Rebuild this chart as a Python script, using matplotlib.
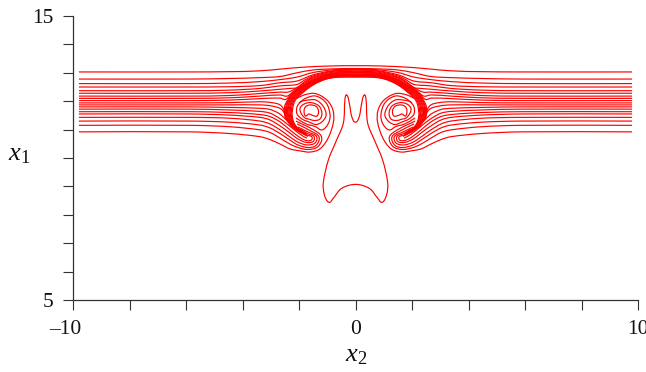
import matplotlib
matplotlib.use("Agg")
import matplotlib.pyplot as plt
import numpy as np
from matplotlib.patches import PathPatch
from matplotlib.path import Path
from matplotlib.transforms import ScaledTranslation

plt.rcParams["font.family"] = ["Liberation Serif", "DejaVu Serif"]
plt.rcParams["mathtext.fontset"] = "custom"
plt.rcParams["mathtext.rm"] = "Liberation Serif"
plt.rcParams["mathtext.it"] = "Liberation Serif:italic"

x_ticks = [-10, -8, -6, -4, -2, 0, 2, 4, 6, 8, 10]
x_tick_labels = ["\u201310", "", "", "", "", "0", "", "", "", "", "10"]
y_ticks = [5, 6, 7, 8, 9, 10, 11, 12, 13, 14, 15]
y_tick_labels = ["5", "", "", "", "", "", "", "", "", "", "15"]

# Left half of every streamline (x2, x1); the right half is its mirror image.
over_01 = [(-9.79, 13.03), (-5.86, 13.03), (-4.44, 13.04), (-3.38, 13.07), (-1.96, 13.19), (-0.90, 13.24), (0, 13.25)]
over_02 = [(-9.79, 12.78), (-5.86, 12.78), (-4.44, 12.80), (-3.38, 12.83), (-2.67, 12.87), (-2.07, 13.00), (-1.50, 13.10), (-0.73, 13.14), (0, 13.15)]
over_03 = [(-9.79, 12.62), (-5.86, 12.62), (-4.44, 12.64), (-3.38, 12.69), (-2.67, 12.76), (-2.07, 12.85), (-1.50, 13.01), (-0.73, 13.11), (0, 13.12)]
over_04 = [(-9.79, 12.50), (-5.86, 12.50), (-4.44, 12.51), (-3.38, 12.55), (-2.67, 12.65), (-2.07, 12.71), (-1.50, 12.93), (-0.73, 13.08), (0, 13.10)]
over_05 = [(-9.79, 12.37), (-5.86, 12.37), (-4.44, 12.39), (-3.38, 12.45), (-2.67, 12.54), (-2.07, 12.59), (-1.79, 12.75), (-1.50, 12.89), (-0.73, 13.06), (0, 13.07)]
over_06 = [(-9.79, 12.28), (-5.86, 12.28), (-4.44, 12.30), (-3.38, 12.36), (-2.67, 12.42), (-2.32, 12.45), (-2.07, 12.48), (-1.79, 12.69), (-1.50, 12.85), (-0.73, 13.03), (0, 13.04)]
over_07 = [(-9.79, 12.18), (-5.86, 12.18), (-4.44, 12.20), (-3.38, 12.27), (-2.67, 12.32), (-2.39, 12.32), (-2.11, 12.45), (-1.79, 12.66), (-1.50, 12.82), (-0.73, 13.00), (0, 13.01)]
over_08 = [(-9.79, 12.10), (-5.86, 12.10), (-4.44, 12.12), (-3.38, 12.18), (-2.67, 12.22), (-2.42, 12.18), (-2.18, 12.36), (-1.79, 12.61), (-1.50, 12.78), (-0.73, 12.98), (0, 12.99)]
over_09 = [(-9.79, 12.02), (-5.86, 12.02), (-4.44, 12.04), (-3.38, 12.09), (-2.67, 12.11), (-2.48, 12.06), (-2.25, 12.27), (-1.86, 12.52), (-1.50, 12.75), (-0.73, 12.95), (0, 12.96)]

arc_0 = [(-2.04, 10.97), (-2.37, 11.27), (-2.50, 11.48), (-2.48, 11.90), (-2.07, 12.41), (-1.50, 12.73), (-0.90, 12.94), (0, 12.94)]
arc_1 = [(-2.00, 10.95), (-2.34, 11.25), (-2.46, 11.48), (-2.44, 11.90), (-2.07, 12.38), (-1.50, 12.70), (-0.90, 12.92), (0, 12.92)]
arc_2 = [(-1.96, 10.93), (-2.31, 11.23), (-2.43, 11.48), (-2.41, 11.90), (-2.07, 12.34), (-1.50, 12.68), (-0.90, 12.91), (0, 12.91)]
arc_3 = [(-1.93, 10.92), (-2.28, 11.21), (-2.40, 11.48), (-2.37, 11.90), (-2.07, 12.31), (-1.50, 12.66), (-0.90, 12.89), (0, 12.90)]
arc_4 = [(-1.89, 10.90), (-2.24, 11.20), (-2.37, 11.48), (-2.34, 11.90), (-2.07, 12.27), (-1.50, 12.64), (-0.90, 12.88), (0, 12.89)]
arc_5 = [(-1.86, 10.88), (-2.21, 11.18), (-2.34, 11.48), (-2.30, 11.90), (-2.07, 12.24), (-1.50, 12.62), (-0.90, 12.86), (0, 12.88)]
arc_6 = [(-1.81, 10.85), (-2.18, 11.16), (-2.30, 11.48), (-2.27, 11.90), (-2.07, 12.20), (-1.50, 12.61), (-0.90, 12.84), (0, 12.87)]
arc_7 = [(-1.77, 10.84), (-2.15, 11.15), (-2.27, 11.48), (-2.23, 11.90), (-2.07, 12.16), (-1.50, 12.59), (-0.90, 12.82), (0, 12.86)]
arc_8 = [(-1.72, 10.83), (-2.11, 11.13), (-2.24, 11.48), (-2.19, 11.90), (-2.07, 12.11), (-1.50, 12.57), (-0.90, 12.81), (0, 12.85)]

down_10 = [(-9.79, 11.94), (-5.86, 11.94), (-4.44, 11.95), (-3.38, 11.98), (-2.96, 11.95), (-2.67, 11.87), (-2.53, 11.69), (-2.46, 11.41), (-2.28, 11.16), (-1.96, 10.95), (-1.75, 10.83)]
down_11 = [(-9.79, 11.87), (-5.86, 11.87), (-4.44, 11.87), (-3.38, 11.87), (-2.96, 11.83), (-2.64, 11.73), (-2.50, 11.55), (-2.41, 11.34), (-2.25, 11.11), (-1.96, 10.92), (-1.75, 10.81)]
down_12 = [(-9.79, 11.80), (-5.86, 11.80), (-4.44, 11.78), (-3.38, 11.75), (-3.03, 11.71), (-2.71, 11.57), (-2.50, 11.39), (-2.35, 11.23), (-2.14, 11.02), (-1.86, 10.85), (-1.68, 10.76)]
down_13 = [(-9.79, 11.72), (-5.86, 11.72), (-4.44, 11.69), (-3.38, 11.64), (-3.03, 11.58), (-2.71, 11.41), (-2.42, 11.20), (-2.14, 10.97), (-1.86, 10.77), (-1.72, 10.70)]

lobe_14 = [(-9.79, 11.63), (-5.86, 11.63), (-4.44, 11.60), (-3.38, 11.53), (-3.03, 11.46), (-2.67, 11.27), (-2.32, 10.99), (-2.04, 10.77), (-1.79, 10.63), (-1.58, 10.62), (-1.54, 10.74), (-1.72, 10.81), (-1.96, 10.95)]
lobe_15 = [(-9.79, 11.55), (-5.86, 11.55), (-4.44, 11.51), (-3.38, 11.43), (-3.03, 11.34), (-2.67, 11.13), (-2.32, 10.88), (-2.04, 10.67), (-1.75, 10.55), (-1.50, 10.58), (-1.47, 10.76), (-1.68, 10.85), (-1.96, 11.02)]
lobe_16 = [(-9.79, 11.43), (-5.86, 11.43), (-4.44, 11.40), (-3.38, 11.30), (-3.03, 11.20), (-2.67, 10.99), (-2.32, 10.74), (-2.04, 10.56), (-1.72, 10.46), (-1.43, 10.53), (-1.38, 10.76), (-1.65, 10.90), (-2.04, 11.09)]
lobe_17 = [(-9.79, 11.30), (-5.86, 11.30), (-4.44, 11.26), (-3.38, 11.16), (-3.03, 11.06), (-2.67, 10.86), (-2.32, 10.63), (-2.04, 10.46), (-1.68, 10.37), (-1.40, 10.44), (-1.29, 10.74), (-1.58, 10.95), (-2.07, 11.20)]
lobe_18 = [(-9.79, 11.15), (-5.86, 11.15), (-4.44, 11.10), (-3.38, 10.99), (-3.03, 10.90), (-2.67, 10.70), (-2.32, 10.49), (-2.04, 10.37), (-1.68, 10.30), (-1.33, 10.40), (-1.20, 10.74), (-1.50, 11.00), (-2.11, 11.30)]
wrap_19 = [(-9.79, 10.92), (-5.86, 10.92), (-4.44, 10.86), (-3.38, 10.75), (-3.03, 10.65), (-2.67, 10.49), (-2.32, 10.32), (-1.96, 10.25), (-1.61, 10.21), (-1.26, 10.32), (-0.97, 10.70), (-0.78, 11.27), (-0.80, 11.69), (-1.01, 12.04), (-1.43, 12.27), (-1.82, 12.22), (-2.07, 12.10)]

vortex_b = [(-2.11, 11.41), (-1.75, 11.20), (-1.43, 11.11), (-1.19, 10.99), (-0.97, 11.20), (-0.90, 11.51), (-1.04, 11.94), (-1.40, 12.18), (-1.75, 12.11), (-2.00, 11.94)]
vortex_c = [(-1.68, 12.04), (-1.40, 12.04), (-1.15, 11.83), (-1.04, 11.51), (-1.19, 11.27), (-1.40, 11.18), (-1.65, 11.27), (-1.89, 11.37), (-2.07, 11.55), (-2.07, 11.80), (-1.93, 11.98)]
vortex_d = [(-1.58, 11.95), (-1.29, 11.83), (-1.19, 11.58), (-1.26, 11.37), (-1.47, 11.32), (-1.61, 11.36), (-1.79, 11.41), (-1.93, 11.58), (-1.96, 11.76), (-1.82, 11.90)]
vortex_e = [(-1.61, 11.87), (-1.40, 11.82), (-1.31, 11.66), (-1.36, 11.48), (-1.52, 11.50), (-1.65, 11.55), (-1.77, 11.48), (-1.82, 11.66), (-1.77, 11.80)]

stem_half = [(0, 11.26), (-0.13, 11.45), (-0.22, 11.93), (-0.31, 12.22), (-0.37, 12.10), (-0.43, 11.23), (-0.67, 10.63), (-0.96, 9.93), (-1.14, 9.12), (-1.10, 8.70), (-0.94, 8.44), (-0.79, 8.58), (-0.49, 8.93), (0, 9.07)]

crossing_lines = [over_01, over_02, over_03, over_04, over_05, over_06, over_07, over_08, over_09,
                  arc_0, arc_1, arc_2, arc_3, arc_4, arc_5, arc_6, arc_7, arc_8]
side_lines = [down_10, down_11, down_12, down_13, lobe_14, lobe_15, lobe_16, lobe_17, lobe_18, wrap_19, vortex_b]
closed_side_lines = [vortex_c, vortex_d, vortex_e]

LINE_COLOR = "#ff0000"
LINE_WIDTH = 0.85


def smooth_path(points, closed=False):
    """Bezier path through the read points (chord-length tangents)."""
    p = np.asarray(points, float)
    if closed:
        q = np.vstack([p[-1], p, p[0], p[1]])
    else:
        q = np.vstack([p[0], p, p[-1]])
    verts = [q[1]]
    codes = [Path.MOVETO]
    for i in range(1, len(q) - 2):
        a, b, c, d = q[i - 1], q[i], q[i + 1], q[i + 2]
        seg = np.linalg.norm(c - b)
        t1 = (c - a) / max(np.linalg.norm(c - a), 1e-9)
        t2 = (d - b) / max(np.linalg.norm(d - b), 1e-9)
        verts += [b + t1 * seg / 3, c - t2 * seg / 3, c]
        codes += [Path.CURVE4] * 3
    return Path(verts, codes)


def draw(ax, points, closed=False):
    ax.add_patch(PathPatch(smooth_path(points, closed), fill=False,
                           edgecolor=LINE_COLOR, linewidth=LINE_WIDTH))


fig = plt.figure(figsize=(6.46, 3.72), dpi=100)
ax = fig.add_axes([73 / 646, 72 / 372, 565 / 646, 284 / 372])
ax.set_xlim(-10, 10)
ax.set_ylim(5, 15)

for half in crossing_lines:
    draw(ax, list(half) + [(-x, y) for x, y in reversed(half[:-1])])
for half in side_lines:
    draw(ax, half)
    draw(ax, [(-x, y) for x, y in half])
for half in closed_side_lines:
    draw(ax, half, closed=True)
    draw(ax, [(-x, y) for x, y in half], closed=True)
draw(ax, list(stem_half) + [(-x, y) for x, y in reversed(stem_half[1:-1])], closed=True)

for side in ("top", "right"):
    ax.spines[side].set_visible(False)
for side in ("left", "bottom"):
    ax.spines[side].set_color("#333333")
    ax.spines[side].set_linewidth(0.9)
ax.set_xticks(x_ticks)
ax.set_xticklabels(x_tick_labels)
ax.set_yticks(y_ticks)
ax.set_yticklabels(y_tick_labels)
ax.tick_params(axis="both", direction="out", length=7.2, width=0.8, color="#333333",
               labelsize=15.5, labelcolor="#111111")
ax.tick_params(axis="x", pad=7.5)
ax.tick_params(axis="y", pad=7)
first = ax.get_xticklabels()[0]
first.set_transform(first.get_transform() + ScaledTranslation(-8 / 100, 0, fig.dpi_scale_trans))

fig.text(19 / 646, 1 - 155 / 372, r"$x_1$", fontsize=19, ha="center", va="center", color="#111111")
fig.text(356 / 646, 1 - 356 / 372, r"$x_2$", fontsize=19, ha="center", va="center", color="#111111")

fig.savefig("out.png", dpi=100)
